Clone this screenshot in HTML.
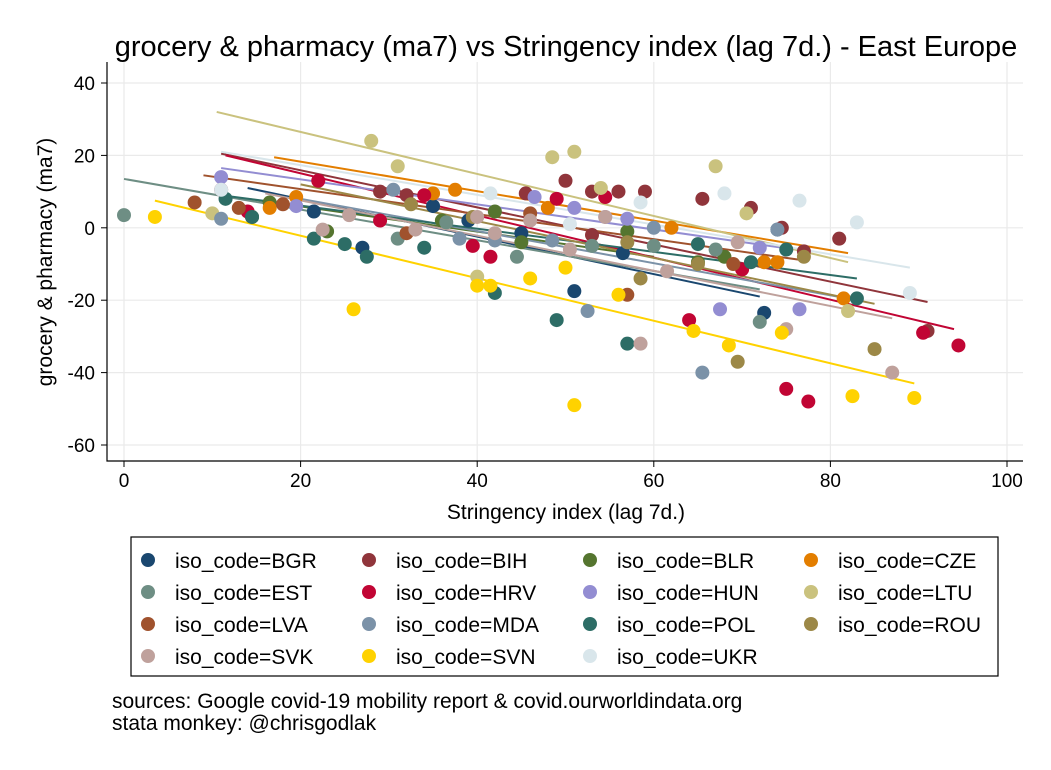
<!DOCTYPE html>
<html><head><meta charset="utf-8"><style>
body{margin:0;background:#fff;}
svg{font-family:"Liberation Sans",Arial,sans-serif;}
</style></head><body>
<svg id="c" width="1051" height="765" viewBox="0 0 1051 765">
<rect width="1051" height="765" fill="#fff"/>
<text x="566" y="56" font-size="29" text-anchor="middle">grocery &amp; pharmacy (ma7) vs Stringency index (lag 7d.) - East Europe</text>
<g id="grid"></g><g id="fits"></g><g id="pts"></g><g id="axes"></g>
<text x="566" y="519" font-size="21" text-anchor="middle">Stringency index (lag 7d.)</text>
<text transform="translate(52,262) rotate(-90)" font-size="21" text-anchor="middle">grocery &amp; pharmacy (ma7)</text>
<rect x="131" y="537" width="867" height="139" fill="#fff" stroke="#000" stroke-width="1.2"/>
<g id="legend"></g>
<text x="112" y="708" font-size="21">sources: Google covid-19 mobility report &amp; covid.ourworldindata.org</text>
<text x="112" y="730" font-size="21">stata monkey: @chrisgodlak</text>
</svg>
<script>
const codes=["BGR","BIH","BLR","CZE","EST","HRV","HUN","LTU","LVA","MDA","POL","ROU","SVK","SVN","UKR"];
const colors=["#1a476f","#90353b","#55752f","#e37e00","#6e8e84","#c10534","#938dd2","#cac27e","#a0522d","#7b92a8","#2d6d66","#9c8847","#bfa19c","#ffd200","#d9e6eb"];
const xTicks=[0,20,40,60,80,100];
const yTicks=[-60,-40,-20,0,20,40];
const pBGR=[[21.5,4.5],[27,-5.5],[35,6],[45,-1.5],[51,-17.5],[56.5,-7],[72.5,-23.5],[74,-0.5],[39,2]];
const pBIH=[[11,10.5],[29,10],[32,9],[45.5,9.5],[50,13],[53,10],[56,10],[59,10],[65.5,8],[71,5.5],[74.5,0],[77,-6.5],[81,-3],[91,-28.5],[53,-2]];
const pBLR=[[14.5,3],[16.5,7],[23,-1],[36,2],[42,4.5],[45,-4],[57,-1],[65,-9.5],[68,-8]];
const pCZE=[[16.5,5.5],[19.5,8.5],[35,9.5],[37.5,10.5],[48,5.5],[62,0],[72.5,-9.5],[81.5,-19.5],[74,-9.5]];
const pEST=[[0,3.5],[31,-3],[36.5,1.5],[44.5,-8],[53,-5],[60,-5],[67,-6],[72,-26]];
const pHRV=[[14,4.5],[22,13],[29,2],[34,9],[39.5,-5],[41.5,-8],[49,8],[54.5,8.5],[64,-25.5],[70,-11.5],[75,-44.5],[77.5,-48],[90.5,-29],[94.5,-32.5]];
const pHUN=[[11,14],[19.5,6],[46.5,8.5],[51,5.5],[54.5,3],[57,2.5],[67.5,-22.5],[72,-5.5],[76.5,-22.5]];
const pLTU=[[28,24],[31,17],[48.5,19.5],[51,21],[54,11],[67,17],[70.5,4],[82,-23],[10,4],[40,-13.5]];
const pLVA=[[8,7],[13,5.5],[18,6.5],[32,-1.5],[46,4],[57,-18.5],[69,-10]];
const pMDA=[[11,2.5],[30.5,10.5],[38,-3],[42,-3.5],[48.5,-3.5],[52.5,-23],[60,0],[65.5,-40],[74,-0.5]];
const pPOL=[[11.5,8],[14.5,3],[21.5,-3],[25,-4.5],[27.5,-8],[34,-5.5],[42,-18],[49,-25.5],[57,-32],[65,-4.5],[71,-9.5],[75,-6],[83,-19.5]];
const pROU=[[32.5,6.5],[39.5,3],[58.5,-14],[57,-4],[65,-10],[69.5,-37],[77,-8],[85,-33.5]];
const pSVK=[[22.5,-0.5],[25.5,3.5],[33,-0.5],[40,3],[42,-1.5],[46,2],[50.5,-6],[54.5,3],[58.5,-32],[61.5,-12],[69.5,-4],[75,-28],[87,-40]];
const pSVN=[[3.5,3],[26,-22.5],[40,-16],[41.5,-16],[46,-14],[50,-11],[51,-49],[56,-18.5],[64.5,-28.5],[68.5,-32.5],[74.5,-29],[82.5,-46.5],[89.5,-47]];
const pUKR=[[11,10.5],[41.5,9.5],[50.5,1],[58.5,7],[68,9.5],[76.5,7.5],[83,1.5],[89,-18]];
const fitX0=[14,11,14,17,0,11.5,11,10.5,9,20,11,20,16,3.5,11];
const fitY0=[11,20.5,8,19.5,13.5,20,16.5,32,14.5,8,9,12,9.5,7.5,21];
const fitX1=[72,91,60,82,72,94,76,82,77,83,83,85,87,89.5,89];
const fitY1=[-19,-20.5,-8,-7,-17,-28,-6,-9.5,-9,-20,-14,-21,-25,-43,-11];
const series=[pBGR,pBIH,pBLR,pCZE,pEST,pHRV,pHUN,pLTU,pLVA,pMDA,pPOL,pROU,pSVK,pSVN,pUKR];
const NS="http://www.w3.org/2000/svg";
const X=v=>124+v*8.83, Y=v=>227.8-v*3.62;
function mk(tag,attrs,parent,txt){const e=document.createElementNS(NS,tag);for(const k in attrs)e.setAttribute(k,attrs[k]);if(txt!=null)e.textContent=txt;document.getElementById(parent).appendChild(e);return e;}
xTicks.forEach(t=>{
 const g=mk('line',{x1:X(t),x2:X(t),y1:62,y2:461,stroke:'#eaeaea','stroke-width':1.2},'grid');
 
 
 const tk=mk('line',{x1:X(t),x2:X(t),y1:461,y2:467,stroke:'#000'},'axes');
 
 
 const l=mk('text',{x:X(t),y:487,'font-size':19,'text-anchor':'middle'},'axes',t);
 
 
});
yTicks.forEach(t=>{
 const g=mk('line',{x1:107,x2:1023,y1:Y(t),y2:Y(t),stroke:'#eaeaea','stroke-width':1.2},'grid');
 
 
 const tk=mk('line',{x1:101,x2:107,y1:Y(t),y2:Y(t),stroke:'#000'},'axes');
 
 
 const l=mk('text',{x:95,y:Y(t)+7,'font-size':19,'text-anchor':'end'},'axes',t);
 
 
});
const ax=mk('path',{d:'M107 62V461H1023',fill:'none',stroke:'#000','stroke-width':1.2},'axes');


series.forEach((s,i)=>{
 s.forEach(p=>{
  const c=mk('circle',{cx:X(p[0]),cy:Y(p[1]),r:7,fill:colors[i]},'pts');
  
  
 });
});
codes.forEach((c,i)=>{
 const l=mk('line',{x1:X(fitX0[i]),y1:Y(fitY0[i]),x2:X(fitX1[i]),y2:Y(fitY1[i]),stroke:colors[i],'stroke-width':2},'fits');
 
 
 const col=i%4,row=Math.floor(i/4);
 const lx=148+col*221,ly=560+row*32;
 const m=mk('circle',{cx:lx,cy:ly,r:7,fill:colors[i]},'legend');
 
 
 const t=mk('text',{x:lx+27,y:ly+8,'font-size':21},'legend','iso_code='+c);
 
 
});
</script>
</body></html>
